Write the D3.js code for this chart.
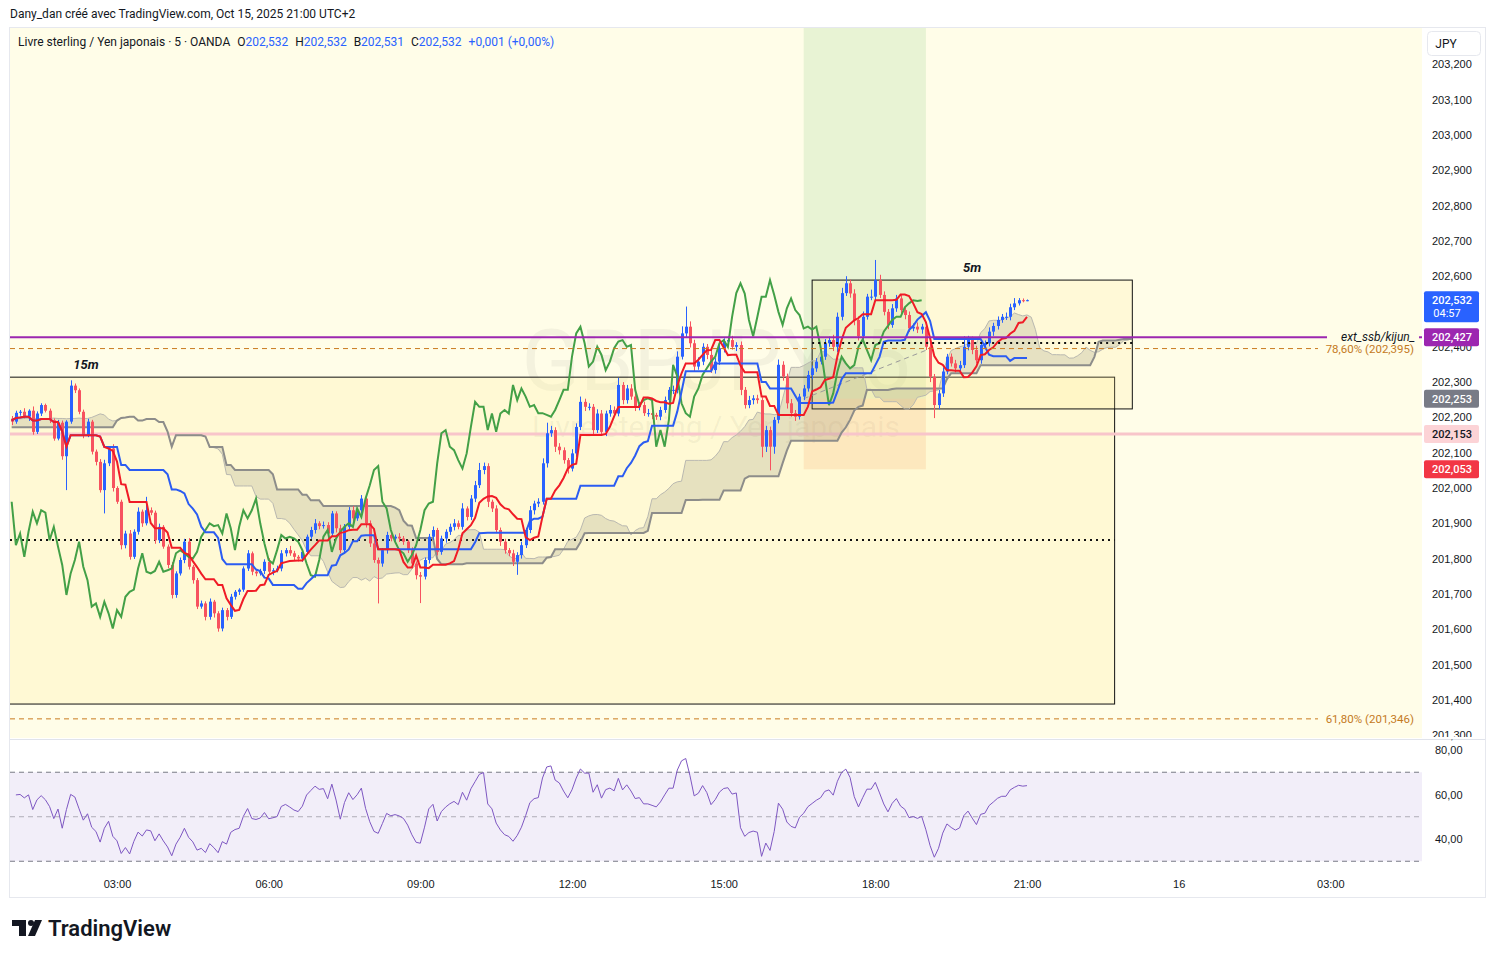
<!DOCTYPE html>
<html lang="fr">
<head>
<meta charset="UTF-8">
<title>GBPJPY 5</title>
<script src="https://d3js.org/d3.v7.min.js"></script>
<style>
  body { margin: 0; background: #fff; }
  svg { display: block; font-family: Roboto, "Noto Sans", sans-serif; }
  .axis text { font-size: 11px; fill: #131722; }
</style>
</head>
<body>
<svg id="chart" width="1495" height="958"></svg>
<script>
// ---- data (5 min bars, 00:55 -> 21:00) ----
const firstBar = new Date(2025, 9, 15, 0, 55);
const firstOpen = 202.196;
const closes = [
  202.188,202.213,202.216,202.202,202.219,202.159,202.211,202.235,202.219,202.192,
  202.140,202.185,202.090,202.188,202.290,202.277,202.216,202.150,202.188,202.103,
  202.074,201.994,202.070,202.112,202.000,201.961,201.838,201.871,201.805,201.876,
  201.933,201.900,201.937,201.930,201.852,201.890,201.834,201.782,201.697,201.758,
  201.796,201.848,201.777,201.739,201.664,201.673,201.635,201.678,201.645,201.602,
  201.654,201.635,201.692,201.706,201.712,201.772,201.815,201.763,201.758,201.765,
  201.791,201.763,201.767,201.772,201.815,201.824,201.815,201.805,201.800,201.819,
  201.862,201.881,201.900,201.892,201.895,201.871,201.928,201.886,201.824,201.890,
  201.937,201.914,201.937,201.970,201.900,201.843,201.796,201.786,201.824,201.867,
  201.857,201.862,201.857,201.848,201.824,201.786,201.753,201.749,201.796,201.862,
  201.881,201.819,201.857,201.876,201.890,201.900,201.890,201.942,201.918,201.970,
  202.008,202.051,202.062,201.961,201.942,201.881,201.848,201.824,201.815,201.791,
  201.810,201.838,201.881,201.937,201.956,201.961,202.070,202.155,202.164,202.117,
  202.107,202.079,202.055,202.098,202.173,202.244,202.230,202.230,202.164,202.211,
  202.159,202.211,202.221,202.211,202.292,202.249,202.282,202.259,202.230,202.235,
  202.212,202.212,202.207,202.202,202.221,202.249,202.278,202.278,202.372,202.438,
  202.457,202.410,202.344,202.358,202.400,202.377,202.334,202.358,202.396,202.415,
  202.419,202.400,202.405,202.278,202.235,202.249,202.254,202.249,202.117,202.164,
  202.117,202.193,202.349,202.316,202.240,202.212,202.202,202.259,202.282,202.320,
  202.339,202.358,202.372,202.410,202.419,202.400,202.485,202.552,202.580,202.551,
  202.476,202.430,202.485,202.542,202.542,202.589,202.547,202.499,202.462,202.509,
  202.537,202.504,202.490,202.452,202.457,202.449,202.457,202.400,202.315,202.235,
  202.268,202.330,202.372,202.353,202.339,202.348,202.400,202.421,202.391,202.362,
  202.405,202.410,202.443,202.459,202.476,202.485,202.485,202.512,202.523,202.532,
  202.530,202.532
];
// wick lengths above / below the body, in points (0,001)
const hiWick = [
  8,6,5,10,4,12,6,5,4,6, 5,8,6,4,15,6,5,6,8,5, 6,8,10,6,12,5,6,8,10,7,
  12,6,38,8,6,9,5,6,8,6, 7,8,10,5,6,8,6,9,5,6, 7,6,8,5,4,6,9,5,8,6,
  7,10,6,8,9,6,12,7,5,8, 6,9,12,6,10,8,7,6,10,8, 9,12,7,10,6,8,10,7,6,9,
  8,6,10,7,5,8,6,9,7,8, 10,6,8,7,9,12,8,15,6,10, 12,20,10,8,6,9,7,8,6,10,
  8,10,6,12,8,10,14,30,12,8, 10,8,6,12,10,15,9,10,8,12, 10,8,14,10,20,8,10,12,9,8,
  10,12,8,6,9,10,8,12,15,20, 57,15,10,12,10,8,14,10,12,9, 10,12,8,10,8,12,9,10,8,12,
  10,8,15,10,8,12,9,8,10,12, 8,10,9,12,10,15,12,15,20,10, 12,10,15,8,20,57,15,10,8,12,
  10,12,8,10,9,12,8,10,12,8, 10,12,8,9,10,12,30,10,8,12, 10,8,12,9,10,8,12,10,15,6,
  5,2
];
const loWick = [
  10,6,8,5,12,8,6,7,5,8, 6,5,10,96,6,8,7,9,6,8, 10,7,66,8,10,6,12,9,8,6,
  8,10,6,7,10,8,6,9,10,8, 6,9,8,10,7,6,10,8,12,9, 8,10,6,8,9,6,7,10,8,6,
  9,8,10,6,8,9,7,10,8,9, 8,6,10,9,7,10,8,12,9,6, 8,10,7,9,12,10,8,113,9,10,
  8,12,10,9,8,10,12,75,8,10, 9,10,8,12,9,10,7,8,10,9, 10,8,12,15,10,9,12,10,8,12,
  37,10,8,9,12,10,8,12,10,15, 12,10,14,8,10,9,12,10,15,8, 10,12,9,10,8,12,10,9,12,10,
  8,10,12,9,10,8,9,12,10,8, 10,12,15,9,10,12,8,10,9,12, 10,8,12,15,10,9,12,10,30,15,
  67,20,10,12,15,10,12,8,10,9, 12,10,8,9,10,12,15,10,8,12, 15,12,10,8,10,12,9,10,12,8,
  10,9,12,10,8,10,12,9,15,37, 12,10,8,9,12,10,8,10,12,9, 10,8,9,12,10,8,9,10,8,6,
  4,1
];
// leading spans shown over the first 25 bars (from history before the window)
const priorLeadA = [202.197,202.197,202.196,202.197,202.198,202.197,202.197,202.196,202.197,202.197,
  202.198,202.197,202.197,202.196,202.197,202.197,202.198,202.197,202.197,202.200,
  202.205,202.210,202.207,202.195,202.190];
const priorLeadB = [202.172,202.172,202.172,202.172,202.172,202.172,202.172,202.172,202.172,202.172,
  202.172,202.172,202.172,202.172,202.172,202.172,202.172,202.172,202.172,202.172,
  202.172,202.172,202.172,202.172,202.172];

// 202,500 sits under the live price tag, so it is not listed
const priceTicks = [201.3,201.4,201.5,201.6,201.7,201.8,201.9,202.0,202.1,202.2,202.3,202.4,
  202.6,202.7,202.8,202.9,203.0,203.1,203.2];
const rsiTicks = [40, 60, 80];
const timeTicks = [new Date(2025,9,15,3), new Date(2025,9,15,6), new Date(2025,9,15,9), new Date(2025,9,15,12),
  new Date(2025,9,15,15), new Date(2025,9,15,18), new Date(2025,9,15,21), new Date(2025,9,16,0), new Date(2025,9,16,3)];

// drawings
const lineExt = 202.427, fib786 = 202.395, fib618 = 201.346, pinkLevel = 202.153;
const box15 = [new Date(2025,9,14,22,0), new Date(2025,9,15,22,44), 202.314, 201.388];
const box5 = [new Date(2025,9,15,16,45), new Date(2025,9,15,23,5), 202.589, 202.224];
const dotted15 = 201.853, dotted5 = 202.411;
const position = [new Date(2025,9,15,16,35), new Date(2025,9,15,19,0), 202.253, 202.053, 203.6, 202.39];

// ---- build bars ----
const bars = closes.map((c, i) => {
  const o = i === 0 ? firstOpen : closes[i - 1];
  return {
    t: new Date(firstBar.getTime() + i * 300000),
    o: o, c: c,
    h: Math.max(o, c) + (hiWick[i] || 0) / 1000,
    l: Math.min(o, c) - (loWick[i] || 0) / 1000
  };
});
const barTime = i => new Date(firstBar.getTime() + i * 300000);

function donchian(len, i) {
  let hi = -Infinity, lo = Infinity;
  for (let k = Math.max(0, i - len + 1); k <= i; k++) { hi = Math.max(hi, bars[k].h); lo = Math.min(lo, bars[k].l); }
  return (hi + lo) / 2;
}
const tenkan = bars.map((b, i) => ({ t: b.t, v: donchian(9, i) }));
const kijun = bars.map((b, i) => ({ t: b.t, v: donchian(26, i) }));
const chikou = bars.slice(25).map((b, i) => ({ t: bars[i].t, v: b.c }));
const cloud = priorLeadA.map((a, i) => ({ t: barTime(i), a: a, b: priorLeadB[i] }))
  .concat(bars.map((b, i) => ({ t: barTime(i + 25), a: (tenkan[i].v + kijun[i].v) / 2, b: donchian(52, i) })));

// RSI 14 (Wilder)
const rsi = [];
{
  const n = 14; let ag = 0, al = 0;
  for (let k = 1; k <= n; k++) { const d = closes[k] - closes[k - 1]; ag += Math.max(d, 0) / n; al += Math.max(-d, 0) / n; }
  for (let i = 1; i < closes.length; i++) {
    const d = closes[i] - closes[i - 1];
    ag = (ag * (n - 1) + Math.max(d, 0)) / n;
    al = (al * (n - 1) + Math.max(-d, 0)) / n;
    rsi.push({ t: bars[i].t, v: al === 0 ? 100 : 100 - 100 / (1 + ag / al) });
  }
}

// ---- scales ----
const svg = d3.select("#chart");
const L = 10, R = 1422, T = 28, B = 738, RT = 740, RB = 870;
const x = d3.scaleTime().domain([new Date(2025,9,15,0,53,1), new Date(2025,9,16,4,48,48)]).range([L, R]);
const y = d3.scaleLinear().domain([201.2918, 203.3031]).range([B, T]);
const yR = d3.scaleLinear().domain([26.07, 84.49]).range([RB, RT]);

const loc = d3.formatLocale({ decimal: ",", thousands: " ", grouping: [3], currency: ["", ""] });
const fmtP = loc.format(".3f"), fmtR = loc.format(".2f");

// frame and backgrounds
svg.append("rect").attr("x", 9.5).attr("y", 27.5).attr("width", 1476).attr("height", 870)
  .attr("fill", "#fff").attr("stroke", "#e6e8ee");
svg.append("rect").attr("x", L).attr("y", T).attr("width", R - L).attr("height", B - T).attr("fill", "#fffde8");
svg.append("line").attr("x1", L).attr("x2", 1485).attr("y1", 739.5).attr("y2", 739.5).attr("stroke", "#e0e3eb");

const defs = svg.append("defs");
defs.append("clipPath").attr("id", "clipMain").append("rect").attr("x", L).attr("y", T).attr("width", R - L).attr("height", B - T);
defs.append("clipPath").attr("id", "clipRsi").append("rect").attr("x", L).attr("y", RT).attr("width", R - L).attr("height", RB - RT);

const main = svg.append("g").attr("clip-path", "url(#clipMain)");

// watermark
main.append("text").attr("x", (L + R) / 2).attr("y", 390).attr("text-anchor", "middle")
  .attr("font-size", 86).attr("fill", "rgba(60,60,60,0.06)").text("GBPJPY, 5");
main.append("text").attr("x", (L + R) / 2).attr("y", 437).attr("text-anchor", "middle")
  .attr("font-size", 30).attr("fill", "rgba(60,60,60,0.07)").text("Livre sterling / Yen japonais");

// position tool
main.append("rect").attr("x", x(position[0])).attr("width", x(position[1]) - x(position[0]))
  .attr("y", y(position[4])).attr("height", y(position[2]) - y(position[4])).attr("fill", "rgba(76,175,80,0.13)");
main.append("rect").attr("x", x(position[0])).attr("width", x(position[1]) - x(position[0]))
  .attr("y", y(position[2])).attr("height", y(position[3]) - y(position[2])).attr("fill", "rgba(242,120,60,0.16)");

// boxes
main.append("rect").attr("x", x(box15[0])).attr("width", x(box15[1]) - x(box15[0]))
  .attr("y", y(box15[2])).attr("height", y(box15[3]) - y(box15[2]))
  .attr("fill", "rgba(255,235,140,0.22)").attr("stroke", "#111").attr("stroke-width", 1);
main.append("rect").attr("x", x(box5[0])).attr("width", x(box5[1]) - x(box5[0]))
  .attr("y", y(box5[2])).attr("height", y(box5[3]) - y(box5[2]))
  .attr("fill", "rgba(255,235,140,0.18)").attr("stroke", "#111").attr("stroke-width", 1);
main.append("text").attr("x", 86).attr("y", y(box15[2]) - 8).attr("text-anchor", "middle")
  .attr("font-size", 13).attr("font-style", "italic").attr("font-weight", "bold").attr("fill", "#131722").text("15m");
main.append("text").attr("x", 972).attr("y", y(box5[2]) - 8).attr("text-anchor", "middle")
  .attr("font-size", 13).attr("font-style", "italic").attr("font-weight", "bold").attr("fill", "#131722").text("5m");

// horizontal levels
main.append("line").attr("x1", L).attr("x2", R).attr("y1", y(pinkLevel)).attr("y2", y(pinkLevel))
  .attr("stroke", "#f8c5ca").attr("stroke-width", 3);
main.append("line").attr("x1", L).attr("x2", x(box15[1])).attr("y1", y(dotted15)).attr("y2", y(dotted15))
  .attr("stroke", "#111").attr("stroke-width", 2).attr("stroke-dasharray", "2,4");

// cloud
main.append("path").datum(cloud).attr("fill", "rgba(128,128,112,0.2)")
  .attr("d", d3.area().x(d => x(d.t)).y0(d => y(d.a)).y1(d => y(d.b)));
main.append("path").datum(cloud).attr("fill", "none").attr("stroke", "#b9b8b0").attr("stroke-width", 1)
  .attr("d", d3.line().x(d => x(d.t)).y(d => y(d.a)));
main.append("path").datum(cloud).attr("fill", "none").attr("stroke", "#8d8d8a").attr("stroke-width", 2)
  .attr("d", d3.line().x(d => x(d.t)).y(d => y(d.b)));

// position tool dashed connector
main.append("line").attr("x1", x(position[0])).attr("y1", y(position[2])).attr("x2", x(position[1])).attr("y2", y(position[5]))
  .attr("stroke", "#9a9a9a").attr("stroke-dasharray", "5,4");

// candles
const up = "#2962ff", down = "#f7525f";
const cg = main.append("g");
cg.selectAll("line").data(bars).join("line")
  .attr("x1", d => Math.round(x(d.t)) + 0.5).attr("x2", d => Math.round(x(d.t)) + 0.5)
  .attr("y1", d => y(d.h)).attr("y2", d => y(d.l))
  .attr("stroke", d => d.c >= d.o ? up : down);
cg.selectAll("rect").data(bars).join("rect")
  .attr("x", d => Math.round(x(d.t)) - 1).attr("width", 3)
  .attr("y", d => y(Math.max(d.o, d.c))).attr("height", d => Math.max(1, Math.abs(y(d.o) - y(d.c))))
  .attr("fill", d => d.c >= d.o ? up : down);

// ichimoku lines
const ln = d3.line().x(d => x(d.t)).y(d => y(d.v));
main.append("path").datum(chikou).attr("fill", "none").attr("stroke", "#43a047").attr("stroke-width", 2).attr("d", ln);
main.append("path").datum(kijun).attr("fill", "none").attr("stroke", "#2b5cf2").attr("stroke-width", 2).attr("d", ln);
main.append("path").datum(tenkan).attr("fill", "none").attr("stroke", "#f01b26").attr("stroke-width", 2).attr("d", ln);

// level lines with labels
main.append("line").attr("x1", L).attr("x2", 1327).attr("y1", y(lineExt)).attr("y2", y(lineExt))
  .attr("stroke", "#9c27b0").attr("stroke-width", 2);
main.append("line").attr("x1", 1419).attr("x2", R).attr("y1", y(lineExt)).attr("y2", y(lineExt))
  .attr("stroke", "#9c27b0").attr("stroke-width", 2);
main.append("text").attr("x", 1415).attr("y", y(lineExt) + 4).attr("text-anchor", "end")
  .attr("font-size", 12).attr("font-style", "italic").attr("fill", "#131722").text("ext_ssb/kijun_");
main.append("line").attr("x1", L).attr("x2", 1318).attr("y1", y(fib786)).attr("y2", y(fib786))
  .attr("stroke", "#c97a1e").attr("stroke-dasharray", "5,4");
main.append("text").attr("x", 1414).attr("y", y(fib786) + 4).attr("text-anchor", "end")
  .attr("font-size", 11.5).attr("fill", "#c47a1e").text("78,60% (" + fmtP(fib786) + ")");
main.append("line").attr("x1", L).attr("x2", 1318).attr("y1", y(fib618)).attr("y2", y(fib618))
  .attr("stroke", "#c97a1e").attr("stroke-dasharray", "5,4");
main.append("text").attr("x", 1414).attr("y", y(fib618) + 4).attr("text-anchor", "end")
  .attr("font-size", 11.5).attr("fill", "#c47a1e").text("61,80% (" + fmtP(fib618) + ")");
main.append("line").attr("x1", x(box5[0])).attr("x2", x(box5[1])).attr("y1", y(dotted5)).attr("y2", y(dotted5))
  .attr("stroke", "#111").attr("stroke-width", 2).attr("stroke-dasharray", "2,4");

// ---- RSI pane ----
const rg = svg.append("g").attr("clip-path", "url(#clipRsi)");
rg.append("rect").attr("x", L).attr("width", R - L).attr("y", yR(70)).attr("height", yR(30) - yR(70))
  .attr("fill", "rgba(126,87,194,0.1)");
[70, 50, 30].forEach(v => rg.append("line").attr("x1", L).attr("x2", R).attr("y1", yR(v)).attr("y2", yR(v))
  .attr("stroke", v === 50 ? "#b0adb8" : "#787b86").attr("stroke-dasharray", "5,4"));
rg.append("path").datum(rsi).attr("fill", "none").attr("stroke", "#7e57c2").attr("stroke-width", 1)
  .attr("d", d3.line().x(d => x(d.t)).y(d => yR(d.v)));

// ---- axes ----
const ax = svg.append("g").attr("class", "axis").attr("transform", `translate(${R},0)`)
  .call(d3.axisRight(y).tickValues(priceTicks).tickFormat(fmtP).tickSize(0).tickPadding(10));
ax.select(".domain").remove();
const axR = svg.append("g").attr("class", "axis").attr("transform", `translate(${R},0)`)
  .call(d3.axisRight(yR).tickValues(rsiTicks).tickFormat(fmtR).tickSize(0).tickPadding(13));
axR.select(".domain").remove();
const axT = svg.append("g").attr("class", "axis").attr("transform", `translate(0,${RB + 2})`)
  .call(d3.axisBottom(x).tickValues(timeTicks).tickSize(0).tickPadding(8)
    .tickFormat(d => d.getHours() === 0 ? d3.timeFormat("%-d")(d) : d3.timeFormat("%H:%M")(d)));
axT.select(".domain").remove();
// cover cut labels at pane edges
svg.append("rect").attr("x", 1423).attr("y", 737).attr("width", 62).attr("height", 2).attr("fill", "#fff");

// price tags
function tag(v, bg, fg, extra) {
  const h = extra ? 31 : 18, yy = y(v) - 9;
  svg.append("rect").attr("x", 1424).attr("y", yy).attr("width", 55).attr("height", h).attr("rx", 2).attr("fill", bg);
  svg.append("text").attr("x", 1452).attr("y", yy + 13).attr("text-anchor", "middle").attr("font-size", 11)
    .attr("font-weight", 500).attr("fill", fg).text(fmtP(v));
  if (extra) svg.append("text").attr("x", 1447).attr("y", yy + 26).attr("text-anchor", "middle").attr("font-size", 11)
    .attr("fill", fg).text(extra);
}
tag(closes[closes.length - 1], "#2962ff", "#fff", "04:57");
tag(lineExt, "#9c27b0", "#fff");
tag(position[2], "#787b86", "#fff");
tag(pinkLevel, "#fcd3d6", "#131722");
tag(position[3], "#f23645", "#fff");

// JPY button
svg.append("rect").attr("x", 1427.5).attr("y", 31.5).attr("width", 53).attr("height", 24).attr("rx", 4)
  .attr("fill", "#fff").attr("stroke", "#e6e8ee");
svg.append("text").attr("x", 1446).attr("y", 48).attr("text-anchor", "middle").attr("font-size", 12)
  .attr("fill", "#131722").text("JPY");

// ---- header and legend ----
svg.append("text").attr("x", 10).attr("y", 18).attr("font-size", 12).attr("fill", "#131722")
  .text("Dany_dan créé avec TradingView.com, Oct 15, 2025 21:00 UTC+2");
const lg = svg.append("text").attr("x", 18).attr("y", 46).attr("font-size", 12).attr("fill", "#131722");
lg.append("tspan").text("Livre sterling / Yen japonais · 5 · OANDA");
[["O", "202,532"], ["H", "202,532"], ["B", "202,531"], ["C", "202,532"]].forEach(p => {
  lg.append("tspan").attr("dx", 7).text(p[0]);
  lg.append("tspan").attr("fill", "#2962ff").text(p[1]);
});
lg.append("tspan").attr("dx", 7).attr("fill", "#2962ff").text("+0,001 (+0,00%)");

// ---- logo ----
const logo = svg.append("g").attr("transform", "translate(12,920)").attr("fill", "#131722");
logo.append("path").attr("d", "M0 0 H14 V16 H7 V6 H0 Z");
logo.append("circle").attr("cx", 19).attr("cy", 3).attr("r", 3);
logo.append("path").attr("d", "M16 16 L23 0 H30 L23 16 Z");
svg.append("text").attr("x", 48).attr("y", 936).attr("font-size", 22).attr("font-weight", 600)
  .attr("fill", "#131722").text("TradingView");
</script>
</body>
</html>
